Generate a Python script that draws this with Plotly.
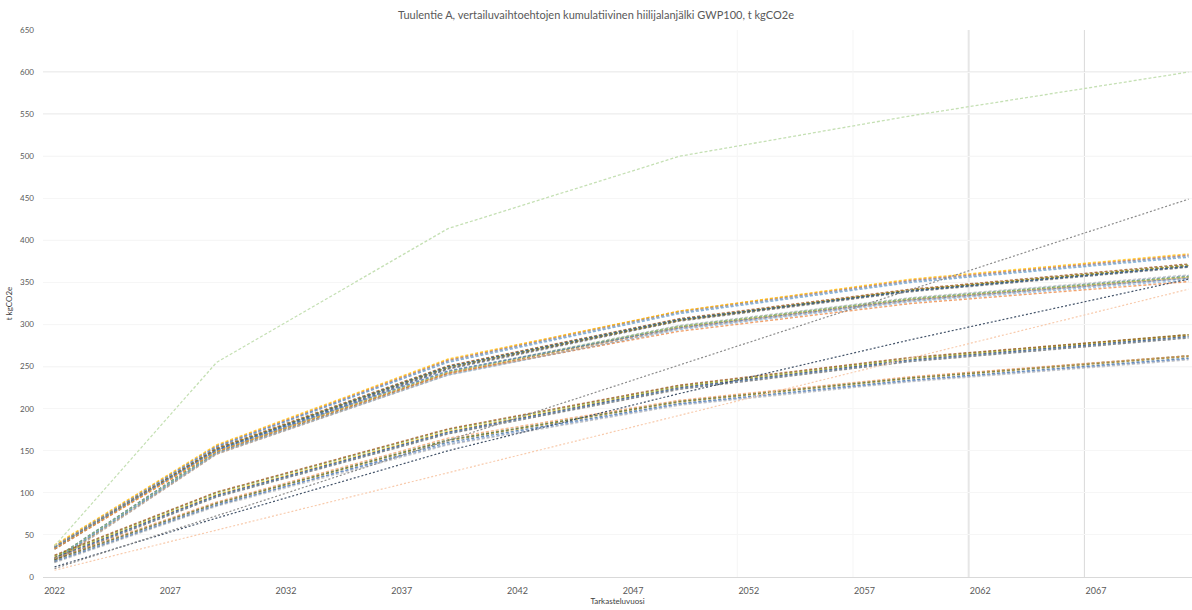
import plotly.graph_objects as go

# Milestone years of the cumulative footprint series
YEARS = [2022, 2029, 2039, 2049, 2059, 2071]
LINE_YEARS = [2022, 2071]

# Upper group of alternatives (t kgCO2e)
A_TOP = [
    [36, 155, 257, 315, 352, 382],
    [37, 156, 258, 316, 353, 383],
    [35, 154, 256, 314, 351, 381],
    [38, 157, 259, 316, 354, 384],
    [36, 155, 255, 313, 350, 380],
]
A_MID = [
    [35, 152, 250, 306, 341, 371],
    [22, 150, 248, 305, 340, 369],
    [34, 153, 251, 307, 342, 372],
    [20, 148, 247, 304, 339, 368],
    [36, 152, 249, 305, 341, 370],
    [33, 151, 250, 306, 340, 369],
]
A_LOW = [
    [19, 147, 242, 297, 330, 357],
    [21, 148, 243, 298, 331, 358],
    [18, 146, 241, 296, 329, 356],
    [36, 150, 244, 299, 332, 359],
    [34, 149, 243, 297, 330, 356],
    [20, 147, 240, 294, 327, 353],
    [22, 149, 244, 298, 331, 357],
    [35, 151, 245, 296, 329, 355],
    [33, 149, 242, 292, 325, 351],
    [17, 146, 240, 295, 328, 355],
]
# Lower group of alternatives
B_UP = [
    [24, 98, 173, 226, 259, 287],
    [22, 96, 171, 224, 257, 285],
    [25, 100, 175, 227, 260, 288],
    [23, 97, 172, 225, 258, 286],
    [26, 101, 176, 228, 261, 288],
    [21, 95, 170, 223, 256, 284],
]
B_LOW = [
    [20, 87, 162, 208, 236, 262],
    [18, 85, 160, 206, 234, 260],
    [21, 88, 163, 209, 237, 263],
    [19, 86, 158, 205, 233, 259],
    [22, 89, 165, 210, 238, 263],
    [17, 84, 157, 204, 232, 258],
]
# Individual alternatives
GREEN = [37, 255, 414, 500, 548, 600]
NAVY = [12, 70, 150, 218, 282, 354]
GRAY = [10, 449]
ORANGE = [8, 342]

X_TICKS = [2022, 2027, 2032, 2037, 2042, 2047, 2052, 2057, 2062, 2067]
Y_TICKS = list(range(0, 651, 50))

PALETTE = ["#4472C4", "#ED7D31", "#A5A5A5", "#FFC000", "#5B9BD5", "#70AD47",
           "#264478", "#9E480E", "#636363", "#997300", "#255E91", "#43682B",
           "#698ED0", "#F1975A", "#B7B7B7", "#FFCD33", "#7CAFDD", "#8CC168"]

fig = go.Figure()

bundle = A_TOP + A_MID + A_LOW + B_UP + B_LOW
for i, vals in enumerate(bundle):
    fig.add_trace(go.Scatter(
        x=YEARS, y=vals, mode="lines",
        line=dict(color=PALETTE[i % len(PALETTE)], width=1.4, dash="3px,2px"),
        opacity=0.7, hoverinfo="skip"))

fig.add_trace(go.Scatter(x=YEARS, y=GREEN, mode="lines",
                         line=dict(color="#C5E0B4", width=1.3, dash="3px,2px")))
fig.add_trace(go.Scatter(x=YEARS, y=NAVY, mode="lines",
                         line=dict(color="#44546A", width=1.2, dash="2px,2px")))
fig.add_trace(go.Scatter(x=LINE_YEARS, y=GRAY, mode="lines",
                         line=dict(color="#8C8C8C", width=1.2, dash="2px,2px")))
fig.add_trace(go.Scatter(x=LINE_YEARS, y=ORANGE, mode="lines",
                         line=dict(color="#F8CBAD", width=1.2, dash="2px,2px")))

# Stronger horizontal gridlines
for yv, col in [(600, "#d9d9d9"), (550, "#d9d9d9"), (300, "#d9d9d9"), (250, "#d9d9d9"),
                (400, "#ececec"), (350, "#ececec"), (500, "#f2f2f2")]:
    fig.add_shape(type="line", xref="paper", x0=0, x1=1, yref="y", y0=yv, y1=yv,
                  line=dict(color=col, width=1), layer="below")
# Vertical gridlines between categories
for xv, col, w in [(2051.5, "#f5f5f5", 1), (2056.5, "#f5f5f5", 1),
                   (2061.5, "#e6e6e6", 2), (2066.5, "#d9d9d9", 1)]:
    fig.add_shape(type="line", xref="x", x0=xv, x1=xv, yref="y", y0=0, y1=650,
                  line=dict(color=col, width=w), layer="below")

fig.update_layout(
    width=1192, height=610,
    margin=dict(l=43, r=0, t=30, b=33),
    paper_bgcolor="white", plot_bgcolor="white",
    showlegend=False,
    font=dict(family="Lato, Liberation Sans, sans-serif", color="#595959", size=9),
    title=dict(text="Tuulentie A, vertailuvaihtoehtojen kumulatiivinen hiilijalanjälki GWP100, t kgCO2e",
               x=0.5, xanchor="center", y=0.975, yanchor="middle",
               font=dict(size=11, color="#595959")),
    xaxis=dict(range=[2021.5, 2071.15], tickvals=X_TICKS, showgrid=False,
               showline=True, linecolor="#d9d9d9", linewidth=1, zeroline=False,
               ticks="", ticklabelstandoff=5, tickfont=dict(size=9, color="#595959"),
               title=dict(text="Tarkasteluvuosi", font=dict(size=8, color="#404040"), standoff=1)),
    yaxis=dict(range=[0, 650], tickvals=Y_TICKS, showgrid=True, gridcolor="#f6f6f6",
               zeroline=False, showline=False, ticks="", ticklabelstandoff=8,
               tickfont=dict(size=8, color="#595959"),
               title=dict(text="t kgCO2e", font=dict(size=8, color="#404040"), standoff=6)),
)

fig.write_html("out.html")
